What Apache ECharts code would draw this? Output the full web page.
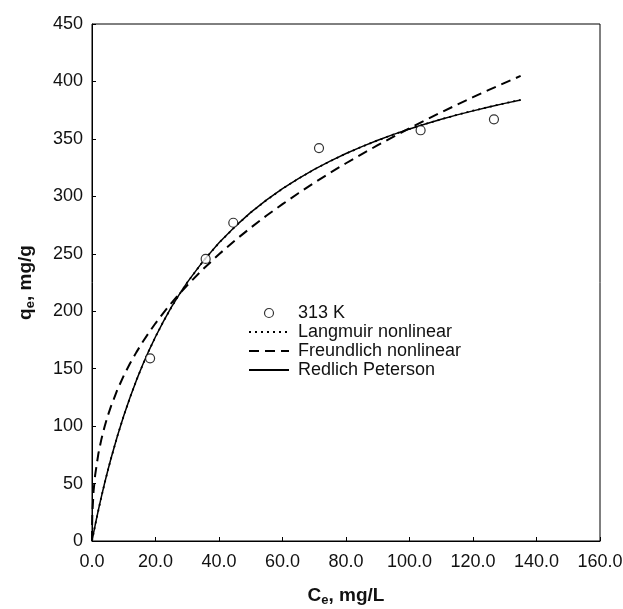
<!DOCTYPE html>
<html>
<head>
<meta charset="utf-8">
<script src="https://cdn.jsdelivr.net/npm/echarts@6/dist/echarts.min.js"></script>
<style>
html,body{margin:0;padding:0;background:#fff;}
#chart{width:623px;height:609px;}
</style>
</head>
<body>
<div id="chart"></div>
<script>
// Experimental points (313 K)
var ceExp = [18.3, 35.8, 44.5, 71.5, 103.5, 126.6];
var qeExp = [159, 245.5, 277, 342, 357.5, 367];

// Fitted curves
var curveC = [0, 0.02, 0.1, 0.5, 1, 2, 3, 4, 5, 6, 8, 10, 12, 14, 16, 18, 20, 22.5, 25, 27.5, 30, 35, 40, 45, 50, 55, 60, 65, 70, 75, 80, 85, 90, 95, 100, 105, 110, 115, 120, 125, 130, 135];
var langmuirQ = [0, 0.3, 1.4, 6.9, 13.7, 26.6, 38.9, 50.5, 61.5, 71.9, 91.3, 109.0, 125.1, 139.9, 153.5, 166.1, 177.7, 191.1, 203.4, 214.6, 225.0, 243.5, 259.5, 273.5, 285.9, 296.8, 306.6, 315.4, 323.4, 330.6, 337.2, 343.2, 348.7, 353.9, 358.6, 363.0, 367.1, 370.9, 374.5, 377.8, 381.0, 383.9];
var freundlichQ = [0, 12.2, 23.1, 43.7, 57.6, 75.9, 89.1, 99.9, 109.2, 117.4, 131.7, 143.9, 154.7, 164.4, 173.4, 181.7, 189.5, 198.6, 207.1, 215.1, 222.6, 236.7, 249.6, 261.6, 272.7, 283.3, 293.2, 302.7, 311.8, 320.5, 328.8, 336.8, 344.5, 352.0, 359.3, 366.3, 373.2, 379.8, 386.3, 392.6, 398.8, 404.8];
var redlichQ = [0, 0.3, 1.5, 7.1, 13.9, 26.9, 39.1, 50.7, 61.6, 72.0, 91.4, 109.1, 125.2, 140.0, 153.6, 166.2, 177.8, 191.2, 203.5, 214.7, 225.1, 243.6, 259.6, 273.6, 286.0, 296.9, 306.7, 315.5, 323.5, 330.7, 337.3, 343.3, 348.8, 353.9, 358.6, 363.0, 367.1, 370.9, 374.4, 377.7, 380.9, 383.8];

var xTicks = [0, 20, 40, 60, 80, 100, 120, 140, 160];
var yTicks = [0, 50, 100, 150, 200, 250, 300, 350, 400, 450];

function pairs(xs, ys) { return xs.map(function (x, i) { return [x, ys[i]]; }); }

var FONT = '"Liberation Sans", Arial, sans-serif';
var chart = echarts.init(document.getElementById('chart'), null, {renderer: 'canvas'});
chart.setOption({
  animation: false,
  backgroundColor: '#fff',
  grid: {left: 92, right: 23, top: 24, bottom: 68, containLabel: false, outerBoundsMode: 'none',
         show: true, borderColor: '#000', borderWidth: 1, backgroundColor: 'transparent'},
  xAxis: {
    type: 'value', min: xTicks[0], max: xTicks[xTicks.length - 1], interval: 20,
    axisLine: {show: true, onZero: false, lineStyle: {color: '#000', width: 1}},
    axisTick: {show: true, inside: true, length: 4, lineStyle: {color: '#000'}},
    splitLine: {show: false},
    axisLabel: {color: '#111', fontSize: 18, fontFamily: FONT, margin: 12, formatter: function (v) { return v.toFixed(1); }},
    name: '{b|C}{s|e}{b|, mg/L}', nameLocation: 'middle', nameGap: 44,
    nameTextStyle: {rich: {
      b: {fontSize: 19, fontWeight: 'bold', fontFamily: FONT, color: '#111'},
      s: {fontSize: 13, fontWeight: 'bold', fontFamily: FONT, color: '#111', padding: [9, 0, 0, 0]}
    }}
  },
  yAxis: {
    type: 'value', min: yTicks[0], max: yTicks[yTicks.length - 1], interval: 50,
    axisLine: {show: true, onZero: false, lineStyle: {color: '#000', width: 1}},
    axisTick: {show: true, inside: true, length: 4, lineStyle: {color: '#000'}},
    splitLine: {show: false},
    axisLabel: {color: '#111', fontSize: 18, fontFamily: FONT, margin: 9},
    name: '{b|q}{s|e}{b|, mg/g}', nameLocation: 'middle', nameGap: 55,
    nameTextStyle: {rich: {
      b: {fontSize: 19, fontWeight: 'bold', fontFamily: FONT, color: '#111'},
      s: {fontSize: 13, fontWeight: 'bold', fontFamily: FONT, color: '#111', padding: [9, 0, 0, 0]}
    }}
  },
  legend: {
    orient: 'vertical', left: 243, top: 299, itemWidth: 40, itemHeight: 9, itemGap: 1,
    textStyle: {fontSize: 18, fontFamily: FONT, color: '#111', padding: [0, 0, 0, 4]},
    data: [
      {name: '313 K', icon: 'circle', itemStyle: {color: '#fff', borderColor: '#000', borderWidth: 1.2}},
      {name: 'Langmuir nonlinear', itemStyle: {opacity: 0}},
      {name: 'Freundlich nonlinear', itemStyle: {opacity: 0}},
      {name: 'Redlich Peterson', itemStyle: {opacity: 0}}
    ]
  },
  series: [
    {
      name: 'Langmuir nonlinear', type: 'line', data: pairs(curveC, langmuirQ),
      symbol: 'none', smooth: false, z: 2,
      lineStyle: {color: '#000', width: 1.8, type: [2, 4]}, itemStyle: {color: '#000'}
    },
    {
      name: 'Freundlich nonlinear', type: 'line', data: pairs(curveC, freundlichQ),
      symbol: 'none', smooth: false, z: 3,
      lineStyle: {color: '#000', width: 2, type: [10, 6]}, itemStyle: {color: '#000'}
    },
    {
      name: 'Redlich Peterson', type: 'line', data: pairs(curveC, redlichQ),
      symbol: 'none', smooth: false, z: 4,
      lineStyle: {color: '#000', width: 1.5, type: 'solid'}, itemStyle: {color: '#000'}
    },
    {
      name: '313 K', type: 'scatter', data: pairs(ceExp, qeExp), z: 5,
      symbol: 'circle', symbolSize: 9,
      itemStyle: {color: '#fff', borderColor: '#000', borderWidth: 1.2}
    }
  ]
});
</script>
</body>
</html>
